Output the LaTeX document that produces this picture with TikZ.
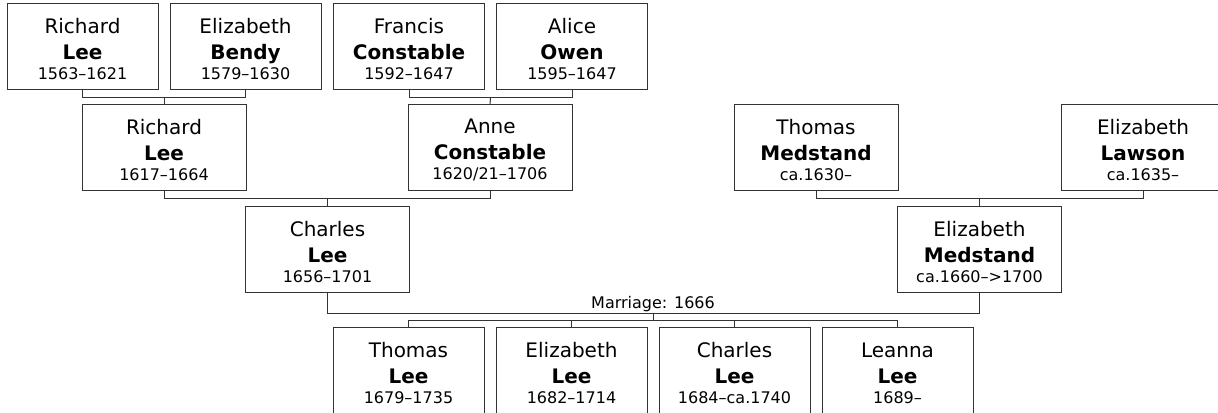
\documentclass[tikz,border=0pt]{standalone}
\usepackage{fontspec}
\setmainfont{DejaVu Sans}
\definecolor{linec}{HTML}{333333}
\newcommand{\pname}[3]{\rule{0pt}{14.5pt}#1\\\textbf{#2}\\[-4.5pt]{\fontsize{12}{15}\selectfont #3}}
\begin{document}
\begin{tikzpicture}[x=0.75pt,y=-0.75pt,
  person/.style={draw=linec, line width=0.75pt, fill=white, align=center,
    minimum width=113.25pt, minimum height=64.5pt, inner sep=0pt,
    font=\fontsize{15}{19.5}\selectfont},
  wide/.style={person, minimum width=123pt},
  conn/.style={draw=linec, line width=0.75pt},
  lbl/.style={font=\fontsize{12}{15}\selectfont, inner sep=0pt, anchor=base}]
\useasboundingbox (0,0) rectangle (1218,413);
\clip (0,0) rectangle (1218,413);
% generation 1
\node[person] (rl1) at (82.5,47) {\pname{Richard}{Lee}{1563–1621}};
\node[person] (eb) at (245.5,47) {\pname{Elizabeth}{Bendy}{1579–1630}};
\node[person] (fc) at (409,47) {\pname{Francis}{Constable}{1592–1647}};
\node[person] (ao) at (572,47) {\pname{Alice}{Owen}{1595–1647}};
% generation 2
\node[wide] (rl2) at (164,148) {\pname{Richard}{Lee}{1617–1664}};
\node[wide] (ac) at (490,148) {\pname{Anne}{Constable}{1620/21–1706}};
\node[wide] (tm) at (816,148) {\pname{Thomas}{Medstand}{ca.1630–}};
\node[wide] (el) at (1143,148) {\pname{Elizabeth}{Lawson}{ca.1635–}};
% generation 3
\node[wide] (cl) at (327.5,249.5) {\pname{Charles}{Lee}{1656–1701}};
\node[wide] (em) at (979.5,249.5) {\pname{Elizabeth}{Medstand}{ca.1660–>1700}};
% generation 4
\node[person] (tl) at (408.5,371) {\pname{Thomas}{Lee}{1679–1735}};
\node[person] (elee) at (571.5,371) {\pname{Elizabeth}{Lee}{1682–1714}};
\node[person] (chl) at (734.5,371) {\pname{Charles}{Lee}{1684–ca.1740}};
\node[person] (ll) at (897.5,371) {\pname{Leanna}{Lee}{1689–}};
% junctions
\coordinate (j1) at (164,97.5);
\coordinate (j2) at (490.5,97.5);
\coordinate (j3) at (327.5,198.5);
\coordinate (j4) at (979.5,198.5);
\coordinate (jm) at (653,313.5);
\coordinate (jc) at (653,320.5);
% connectors
\draw[conn] (rl1.south) |- (j1) -| (eb.south);
\draw[conn] (j1) -- (rl2.north);
\draw[conn] (fc.south) |- (j2) -| (ao.south);
\draw[conn] (j2) -- (ac.north);
\draw[conn] (rl2.south) |- (j3) -| (ac.south);
\draw[conn] (j3) -- (cl.north);
\draw[conn] (tm.south) |- (j4) -| (el.south);
\draw[conn] (j4) -- (em.north);
\draw[conn] (cl.south) |- (jm) -| (em.south);
\draw[conn] (jm) -- (jc);
\draw[conn] (tl.north) |- (jc) -| (ll.north);
\draw[conn] (elee.north) -- (elee.north |- jc);
\draw[conn] (chl.north) -- (chl.north |- jc);
\node[lbl] (mar) at (653,309) {Marriage: 1666};
\end{tikzpicture}
\end{document}
